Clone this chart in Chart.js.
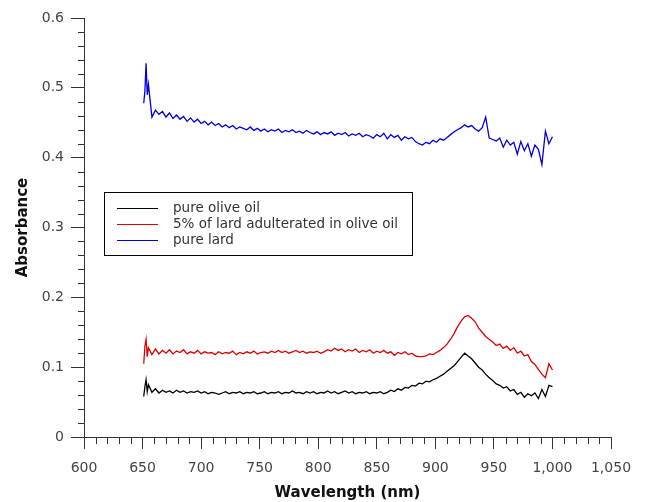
<!DOCTYPE html>
<html>
<head>
<meta charset="utf-8">
<script src="https://cdn.jsdelivr.net/npm/chart.js@4.4.1/dist/chart.umd.min.js"></script>
<style>
html,body{margin:0;padding:0;background:#fff;}
#wrap{width:645px;height:502px;}
</style>
</head>
<body>
<div id="wrap"><canvas id="c" width="645" height="502"></canvas></div>
<script>
const wavelength = [651,652,653,654,655,658,661,664,667,670,673,676,679,682,685,688,691,694,697,700,703,706,709,712,715,718,721,724,727,730,733,736,739,742,745,748,751,754,757,760,763,766,769,772,775,778,781,784,787,790,793,796,799,802,805,808,811,814,817,820,823,826,829,832,835,838,841,844,847,850,853,856,859,862,865,868,871,874,877,880,883,886,889,892,895,898,901,904,907,910,913,916,919,922,925,928,931,934,937,940,943,946,949,952,955,958,961,964,967,970,973,976,979,982,985,988,991,994,997,1000];

const pureLard = [0.478,0.495,0.535,0.490,0.505,0.458,0.468,0.462,0.466,0.458,0.464,0.456,0.461,0.455,0.459,0.452,0.457,0.451,0.455,0.449,0.452,0.447,0.451,0.446,0.449,0.444,0.447,0.443,0.446,0.441,0.444,0.442,0.440,0.444,0.439,0.442,0.438,0.441,0.437,0.440,0.438,0.441,0.436,0.439,0.437,0.440,0.436,0.438,0.435,0.439,0.436,0.434,0.437,0.433,0.436,0.434,0.437,0.432,0.435,0.433,0.436,0.431,0.434,0.432,0.435,0.430,0.433,0.431,0.428,0.433,0.430,0.435,0.427,0.433,0.429,0.432,0.425,0.430,0.427,0.429,0.423,0.420,0.418,0.422,0.420,0.425,0.422,0.427,0.425,0.429,0.433,0.437,0.440,0.443,0.447,0.444,0.446,0.441,0.438,0.443,0.458,0.428,0.426,0.424,0.428,0.415,0.425,0.418,0.422,0.405,0.423,0.410,0.420,0.402,0.418,0.412,0.390,0.438,0.420,0.430];

const adulterated = [0.105,0.130,0.140,0.115,0.128,0.118,0.126,0.119,0.124,0.120,0.125,0.119,0.123,0.121,0.125,0.119,0.122,0.120,0.124,0.119,0.122,0.120,0.121,0.118,0.122,0.119,0.121,0.120,0.123,0.118,0.121,0.119,0.122,0.120,0.123,0.119,0.121,0.122,0.120,0.123,0.121,0.124,0.121,0.123,0.120,0.122,0.124,0.121,0.123,0.120,0.122,0.121,0.123,0.120,0.122,0.125,0.123,0.127,0.124,0.126,0.122,0.125,0.123,0.126,0.121,0.124,0.122,0.125,0.120,0.123,0.121,0.124,0.120,0.122,0.117,0.121,0.119,0.122,0.118,0.120,0.116,0.115,0.115,0.116,0.119,0.118,0.121,0.124,0.128,0.133,0.140,0.148,0.158,0.166,0.172,0.174,0.170,0.165,0.156,0.150,0.144,0.140,0.136,0.131,0.133,0.127,0.130,0.124,0.128,0.120,0.123,0.116,0.118,0.108,0.104,0.097,0.090,0.085,0.105,0.096];

const oliveOil = [0.058,0.072,0.082,0.065,0.075,0.064,0.069,0.063,0.067,0.064,0.066,0.063,0.067,0.064,0.066,0.063,0.065,0.064,0.066,0.063,0.065,0.062,0.064,0.063,0.061,0.063,0.065,0.062,0.064,0.063,0.065,0.062,0.064,0.063,0.065,0.062,0.063,0.065,0.062,0.064,0.063,0.065,0.062,0.064,0.063,0.066,0.063,0.064,0.062,0.065,0.063,0.065,0.062,0.064,0.063,0.066,0.063,0.065,0.062,0.064,0.066,0.063,0.065,0.062,0.064,0.063,0.065,0.062,0.064,0.063,0.065,0.062,0.064,0.067,0.065,0.069,0.067,0.071,0.070,0.074,0.073,0.077,0.076,0.080,0.079,0.082,0.084,0.087,0.090,0.094,0.098,0.102,0.108,0.114,0.120,0.116,0.112,0.106,0.100,0.096,0.090,0.085,0.081,0.076,0.074,0.070,0.072,0.066,0.068,0.061,0.064,0.057,0.062,0.059,0.063,0.055,0.068,0.058,0.074,0.072];

const seriesLabels = ['pure olive oil','5% of lard adulterated in olive oil','pure lard'];
const seriesColors = ['#000000','#dd0000','#0000dd'];
const seriesValues = [oliveOil, adulterated, pureLard];

const xMajor = 50, xMinor = 10;
const yMajor = 0.1, yMinor = 0.02;

function pts(vals){ return vals.map((v,i)=>({x:wavelength[i], y:v})); }
function isMult(v, step){ const r = v/step; return Math.abs(r-Math.round(r)) < 1e-6; }

const minorTicks = {
  id:'minorTicks',
  afterDraw(chart){
    const ctx = chart.ctx, xs = chart.scales.x, ys = chart.scales.y;
    ctx.save();
    ctx.strokeStyle = '#333'; ctx.lineWidth = 1;
    ctx.beginPath();
    for (const t of xs.ticks){
      if (!isMult(t.value, xMajor)){
        const px = Math.round(xs.getPixelForValue(t.value)) + 0.5;
        ctx.moveTo(px, ys.bottom); ctx.lineTo(px, ys.bottom + 7);
      }
    }
    for (const t of ys.ticks){
      if (!isMult(t.value, yMajor)){
        const py = Math.round(ys.getPixelForValue(t.value)) + 0.5;
        ctx.moveTo(xs.left, py); ctx.lineTo(xs.left - 6, py);
      }
    }
    ctx.stroke();
    ctx.restore();
  }
};

const boxLegend = {
  id:'boxLegend',
  afterDraw(chart){
    const ctx = chart.ctx;
    const x0 = 104.5, y0 = 192.5, w = 308, h = 63;
    ctx.save();
    ctx.fillStyle = '#fff';
    ctx.fillRect(x0, y0, w, h);
    ctx.strokeStyle = '#000'; ctx.lineWidth = 1;
    ctx.strokeRect(x0, y0, w, h);
    ctx.font = '13.5px "DejaVu Sans", sans-serif';
    ctx.textBaseline = 'middle';
    chart.data.datasets.forEach((ds, i) => {
      const yy = 208 + i*16;
      ctx.strokeStyle = ds.borderColor; ctx.lineWidth = 1.2;
      ctx.beginPath(); ctx.moveTo(117, yy + 0.5); ctx.lineTo(158, yy + 0.5); ctx.stroke();
      ctx.fillStyle = '#333';
      ctx.fillText(ds.label, 173, yy);
    });
    ctx.restore();
  }
};

new Chart(document.getElementById('c'), {
  type:'line',
  data:{
    datasets: seriesValues.map((vals,i)=>({
      label: seriesLabels[i],
      data: pts(vals),
      borderColor: seriesColors[i],
      borderWidth: 1.3,
      pointRadius: 0,
      tension: 0,
      fill: false
    }))
  },
  options:{
    responsive:false,
    animation:false,
    layout:{padding:{top:18,right:34,left:14,bottom:0}},
    plugins:{legend:{display:false}, tooltip:{enabled:false}},
    scales:{
      x:{
        type:'linear', min:600, max:1050,
        ticks:{
          stepSize:xMinor, autoSkip:false, maxRotation:0,
          color:'#444', font:{family:'"DejaVu Sans", sans-serif', size:14}, padding:11,
          callback:(v)=> isMult(v, xMajor) ? v.toLocaleString('en-US') : ''
        },
        grid:{drawOnChartArea:false, tickLength:12,
          tickColor:(c)=> (c.tick && isMult(c.tick.value, xMajor)) ? '#333' : 'rgba(0,0,0,0)'},
        border:{color:'#333', width:1},
        title:{display:true, text:'Wavelength (nm)', color:'#111',
          font:{family:'"DejaVu Sans", sans-serif', size:15, weight:'bold'}, padding:{top:2,bottom:0}},
        afterFit:(s)=>{ s.height = 65; }
      },
      y:{
        min:0, max:0.6,
        ticks:{
          stepSize:yMinor, autoSkip:false,
          color:'#444', font:{family:'"DejaVu Sans", sans-serif', size:14}, padding:7,
          callback:(v)=> isMult(v, yMajor) ? (Math.abs(v)<1e-9 ? '0' : (Math.round(v*10)/10).toString()) : ''
        },
        grid:{drawOnChartArea:false, tickLength:13,
          tickColor:(c)=> (c.tick && isMult(c.tick.value, yMajor)) ? '#333' : 'rgba(0,0,0,0)'},
        border:{color:'#333', width:1},
        title:{display:true, text:'Absorbance', color:'#111',
          font:{family:'"DejaVu Sans", sans-serif', size:15, weight:'bold'}, padding:{top:0,bottom:0}},
        afterFit:(s)=>{ s.width = 70; }
      }
    }
  },
  plugins:[minorTicks, boxLegend]
});
</script>
</body>
</html>
